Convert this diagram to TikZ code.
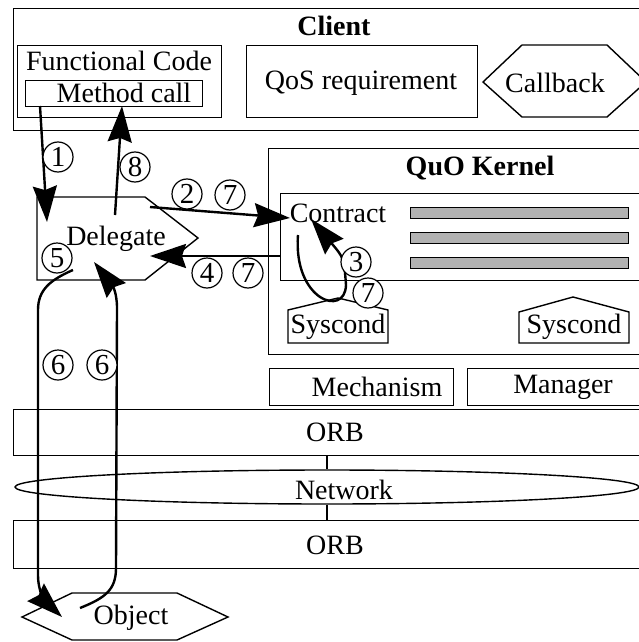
\documentclass[tikz,border=0pt]{standalone}
\usepackage{fontspec}
\setmainfont{Liberation Serif}
\usetikzlibrary{arrows.meta,shapes.geometric}
\begin{document}
\begin{tikzpicture}[x=1pt,y=-1pt,
 box/.style={draw, line width=1.4pt, inner sep=0pt},
 rbox/.style={box, anchor=north west},
 txt/.style={font=\fontsize{28}{30}\selectfont, inner sep=0pt},
 ttl/.style={font=\fontsize{28}{30}\selectfont\bfseries, inner sep=0pt},
 arr/.style={line width=2.4pt, -{Stealth[length=36pt,width=24pt,inset=4pt]}},
 num/.style={circle, draw, fill=white, line width=1.2pt, minimum size=30pt, inner sep=0pt, font=\fontsize{29}{29}\selectfont},
 barbox/.style={draw, line width=1pt, fill=gray!60, anchor=north west, inner sep=0pt, minimum width=218pt, minimum height=11pt}]
\useasboundingbox (0,0) rectangle (639,642);
\clip (0,0) rectangle (639,642);

% Client
\node[rbox, minimum width=628pt, minimum height=122pt] (client) at (13,8) {};
\node[ttl] (tclient) at (334,26) {Client};
\node[rbox, minimum width=204pt, minimum height=72pt] (func) at (17,45) {};
\node[txt] (tfunc) at (119,61) {Functional Code};
\node[rbox, minimum width=177pt, minimum height=26pt] (meth) at (25,80) {};
\node[txt] (tmeth) at (124,93) {Method call};
\node[rbox, minimum width=231pt, minimum height=72pt] (qos) at (246,45) {};
\node[txt] (tqos) at (361,83) {QoS requirement};
\draw[box] (483,82) -- (522,45) -- (607,45) -- (646,82) -- (607,117) -- (522,117) -- cycle;
\node[txt] (tcb) at (555,83) {Callback};

% Delegate
\draw[box] (37,197) -- (145,197) -- (198,238) -- (145,280) -- (37,280) -- cycle;
\node[txt] (tdel) at (116,239) {Delegate};

% QuO Kernel
\node[rbox, minimum width=373pt, minimum height=206pt] (kernel) at (268,148) {};
\node[ttl] (tkernel) at (480,168) {QuO Kernel};
\node[rbox, minimum width=361pt, minimum height=87pt] (contract) at (280,193) {};
\node[txt] (tcontract) at (338,213) {Contract};
\node[barbox] (bar1) at (410,207) {};
\node[barbox] (bar2) at (410,232) {};
\node[barbox] (bar3) at (410,257) {};
\draw[box] (288,343) -- (288,310) -- (338,298) -- (388,310) -- (388,343) -- cycle;
\node[txt] (tsys1) at (338,327) {Syscond};
\draw[box] (519,343) -- (519,312) -- (573,297) -- (629,312) -- (629,343) -- cycle;
\node[txt] (tsys2) at (574,327) {Syscond};

% Mechanism / Manager
\node[rbox, minimum width=184pt, minimum height=37pt] (mech) at (269,368) {};
\node[txt] (tmech) at (377,387) {Mechanism};
\node[rbox, minimum width=174pt, minimum height=37pt] (mgr) at (467,368) {};
\node[txt] (tmgr) at (563,387) {Manager};

% ORB / Network
\node[rbox, minimum width=628pt, minimum height=46pt] (orb1) at (13,409) {};
\node[txt] (torb1) at (335,432) {ORB};
\node[box, ellipse, minimum width=624pt, minimum height=34pt] (net) at (327,487) {};
\node[txt] (tnet) at (344,490) {Network};
\node[rbox, minimum width=628pt, minimum height=48pt] (orb2) at (13,520) {};
\node[txt] (torb2) at (335,545) {ORB};
\coordinate (o1b) at (327,455);
\coordinate (o2t) at (327,520);
\draw[line width=1.2pt] (o1b) -- (net.north);
\draw[line width=1.2pt] (net.south) -- (o2t);

% Object
\draw[box] (22,617) -- (72,593) -- (177,593) -- (228,617) -- (177,640) -- (72,640) -- cycle;
\node[txt] (tobj) at (131,618) {Object};

% arrows
\coordinate (a1s) at (40,106); \coordinate (a1e) at (47,222);
\coordinate (a8s) at (115,215); \coordinate (a8e) at (122,106);
\coordinate (a2s) at (150,207); \coordinate (a2e) at (290,218);
\coordinate (a4s) at (280,256); \coordinate (a4e) at (150,256);
\coordinate (a3s) at (298,235); \coordinate (a3m) at (346,285); \coordinate (a3e) at (311,219);
\coordinate (a5s) at (73,270); \coordinate (a5e) at (62,617);
\coordinate (a6s) at (80,608); \coordinate (a6e) at (94,262);
\draw[arr] (a1s) -- (a1e);
\draw[arr] (a8s) -- (a8e);
\draw[arr] (a2s) -- (a2e);
\draw[arr] (a4s) -- (a4e);
\draw[arr] (a3s) .. controls (293,300) and (345,318) .. (a3m) .. controls (344,258) .. (a3e);
\draw[arr] (a5s) .. controls (50,280) and (38,290) .. (38,310) -- (38,575) .. controls (38,592) and (46,602) .. (a5e);
\draw[arr] (a6s) .. controls (105,598) and (116,590) .. (116,568) -- (117,308) .. controls (117,292) and (112,285) .. (a6e);

% step numbers
\node[num] (n1) at (58,157) {1};
\node[num] (n8) at (135,167) {8};
\node[num] (n2) at (187,194) {2};
\node[num] (n7a) at (230,195) {7};
\node[num] (n4) at (207,273) {4};
\node[num] (n7b) at (248,273) {7};
\node[num] (n3) at (356,262) {3};
\node[num] (n7c) at (368,293) {7};
\node[num] (n5) at (57,258) {5};
\node[num] (n6a) at (58,365) {6};
\node[num] (n6b) at (102,365) {6};
\end{tikzpicture}
\end{document}
